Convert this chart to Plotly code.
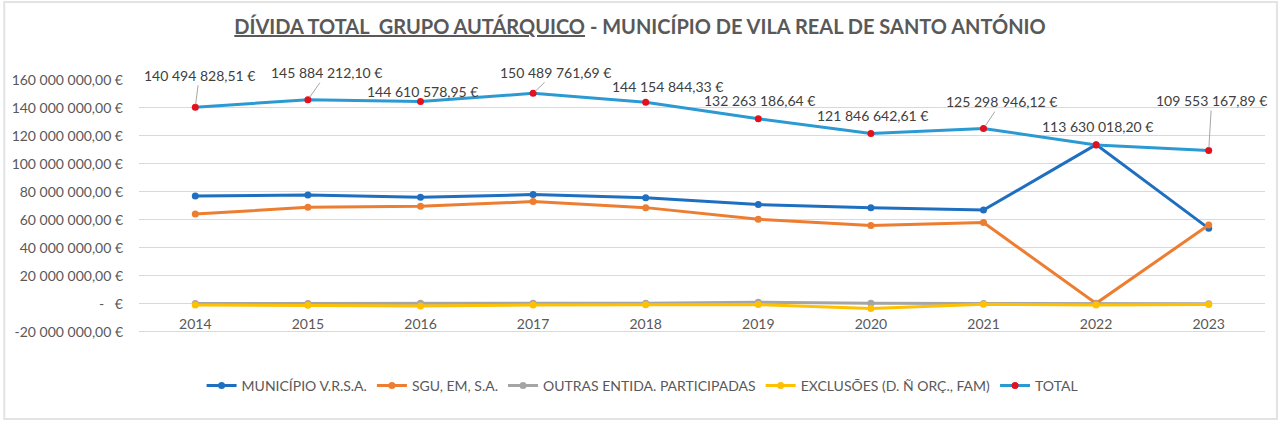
import plotly.graph_objects as go

years = ["2014", "2015", "2016", "2017", "2018", "2019", "2020", "2021", "2022", "2023"]
municipio = [77.1e6, 77.9e6, 76.2e6, 78.1e6, 75.9e6, 71.0e6, 68.8e6, 67.1e6, 113.8e6, 54.0e6]
sgu = [64.3e6, 69.0e6, 69.8e6, 73.1e6, 68.8e6, 60.5e6, 56.0e6, 58.1e6, 0.4e6, 56.4e6]
outras = [0.3e6, 0.3e6, 0.4e6, 0.4e6, 0.5e6, 1.2e6, 0.4e6, 0.3e6, 0.2e6, 0.2e6]
exclusoes = [-0.8e6, -1.0e6, -1.5e6, -0.8e6, -0.6e6, -0.5e6, -3.3e6, -0.2e6, -0.8e6, -0.5e6]
total = [140494828.51, 145884212.10, 144610578.95, 150489761.69, 144154844.33,
         132263186.64, 121846642.61, 125298946.12, 113630018.20, 109553167.89]
total_labels = ["140 494 828,51 €", "145 884 212,10 €", "144 610 578,95 €", "150 489 761,69 €",
                "144 154 844,33 €", "132 263 186,64 €", "121 846 642,61 €", "125 298 946,12 €",
                "113 630 018,20 €", "109 553 167,89 €"]
tick_vals = [-20e6, 0, 20e6, 40e6, 60e6, 80e6, 100e6, 120e6, 140e6, 160e6]
tick_text = ["-20 000 000,00 €", "-   €", "20 000 000,00 €", "40 000 000,00 €", "60 000 000,00 €",
             "80 000 000,00 €", "100 000 000,00 €", "120 000 000,00 €", "140 000 000,00 €",
             "160 000 000,00 €"]
series_names = ["MUNICÍPIO V.R.S.A.", "SGU, EM, S.A.", "OUTRAS ENTIDA. PARTICIPADAS",
                "EXCLUSÕES (D. Ñ ORÇ., FAM)", "TOTAL"]

# label placement (pixel offsets) and whether a leader line is drawn
label_offsets = [(4, -32, True), (19, -27, True), (2, -10, False), (22, -21, True), (22, -16, False),
                 (1, -18, False), (2, -18, False), (18, -27, True), (1, -18, False), (3, -50, True)]

FONT = "Lato"
TXT = "#595959"

fig = go.Figure()
styles = [
    (municipio, "#1F6FC1", "#1F6FC1"),
    (sgu, "#ED7D31", "#ED7D31"),
    (outras, "#A5A5A5", "#A5A5A5"),
    (exclusoes, "#FFC000", "#FFC000"),
    (total, "#2B9AD3", "#E3101E"),
]
for (vals, lc, mc), name in zip(styles, series_names):
    fig.add_trace(go.Scatter(
        x=years, y=vals, name=name, mode="lines+markers",
        line=dict(color=lc, width=3),
        marker=dict(color=mc, size=7, line=dict(width=0)),
    ))

# category axis: annotations are placed by category index
for i, (v, lab, (ax, ay, lead)) in enumerate(zip(total, total_labels, label_offsets)):
    fig.add_annotation(
        x=i, y=v, xref="x", yref="y", text=lab, showarrow=True, ax=ax, ay=ay,
        arrowhead=0, arrowwidth=1, arrowcolor="#A6A6A6" if lead else "rgba(0,0,0,0)",
        standoff=3, font=dict(family=FONT, size=14, color="#404040"),
    )

# faint chart border
fig.add_shape(type="rect", xref="paper", yref="paper",
              x0=-0.1197, x1=1.0106, y0=-0.3346, y1=1.307,
              line=dict(color="#E3E3E3", width=2), fillcolor="rgba(0,0,0,0)", layer="below")

fig.update_layout(
    width=1280, height=422,
    margin=dict(l=137, r=15, t=80, b=88),
    paper_bgcolor="white", plot_bgcolor="white",
    font=dict(family=FONT, size=14, color=TXT),
    title=dict(
        text="<b><u>DÍVIDA TOTAL  GRUPO AUTÁRQUICO</u> - MUNICÍPIO DE VILA REAL DE SANTO ANTÓNIO</b>",
        x=0.5, xanchor="center", y=1 - 27 / 422, yanchor="middle",
        font=dict(family=FONT, size=20, color=TXT),
    ),
    showlegend=True,
    legend=dict(orientation="h", x=(641 - 137) / 1128, xanchor="center", y=-52 / 254, yanchor="middle",
                font=dict(family=FONT, size=14, color=TXT), traceorder="normal"),
    xaxis=dict(type="category", range=[-0.5, 9.5], showgrid=False, zeroline=False,
               showline=False, ticks="", ticklabelstandoff=-20,
               tickfont=dict(family=FONT, size=14, color=TXT)),
    yaxis=dict(range=[-21.5e6, 160e6], tickvals=tick_vals, ticktext=tick_text,
               showgrid=True, gridcolor="#D9D9D9", gridwidth=1, zeroline=False,
               showline=False, ticks="", ticklabelstandoff=15,
               tickfont=dict(family=FONT, size=14, color=TXT)),
)

fig.write_html("out.html")
